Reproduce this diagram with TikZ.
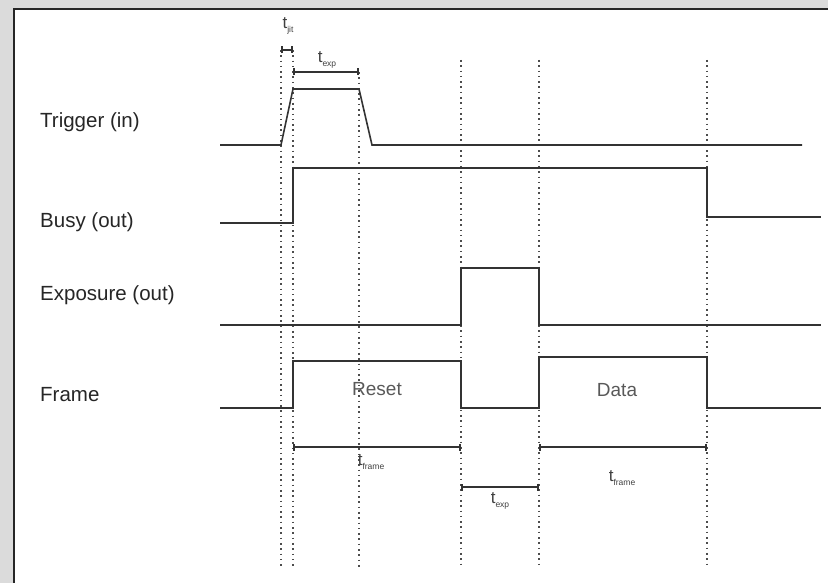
\documentclass[tikz,border=0pt]{standalone}
\usepackage{fontspec}
\setmainfont{Liberation Sans}
\usetikzlibrary{arrows.meta}
\colorlet{sigcol}{black!80}
\colorlet{grdcol}{black!70}
\colorlet{bgcol}{black!14}
\tikzset{
  sig/.style={draw=sigcol, line width=1.6pt, line join=miter},
  grd/.style={draw=grdcol, line width=1.6pt, dash pattern=on 1.6pt off 3.7pt},
  dim/.style={{Bar[width=7pt]}-{Bar[width=7pt]}, draw=sigcol, line width=1.6pt},
  lbl/.style={font=\fontsize{20.5}{24}\selectfont, text=black!85,
              anchor=west, inner sep=0pt},
  tlbl/.style={inner sep=0pt, text=black!75},
  ptxt/.style={font=\fontsize{19}{22}\selectfont, text=black!65, inner sep=0pt},
}
\newcommand{\tsub}[1]{{\fontsize{17}{17}\selectfont t}%
  \raisebox{-3.5pt}{\fontsize{8.5}{9}\selectfont #1}}

\begin{document}
\begin{tikzpicture}[x=1pt, y=-1pt]

%% ============================================================
%% PANEL
%% ============================================================
\useasboundingbox (0,0) rectangle (828,583);
\fill[bgcol] (0,0) rectangle (828,583);
\fill[white] (14,9) rectangle (828,583);
\draw[black!85, line width=2pt] (14,583) -- (14,9) -- (828,9);

%% --- timing grid (dotted) ---
\foreach \x/\yt [count=\i] in {281/50, 293/50, 359/72, 461/60, 539/60, 707/60} {
  \coordinate (g\i t) at (\x,\yt);
  \coordinate (g\i b) at (\x,567);
  \draw[grd] (g\i t) -- (g\i b);
}

%% ============================================================
%% SIGNALS
%% ============================================================
\node[lbl] (lTrig) at (40,122) {Trigger (in)};
\node[lbl] (lBusy) at (40,222) {Busy (out)};
\node[lbl] (lExpo) at (40,295) {Exposure (out)};
\node[lbl] (lFram) at (40,395) {Frame};

%% trigger
\draw[sig] (220,145) -- (281,145) -- (293,89) -- (359,89) -- (372,145) -- (802,145);
%% busy
\draw[sig] (220,223) -- (293,223) -- (293,168) -- (707,168) -- (707,217) -- (821,217);
%% exposure
\draw[sig] (220,325) -- (461,325) -- (461,268) -- (539,268) -- (539,325) -- (821,325);
%% frame
\draw[sig] (220,408) -- (293,408) -- (293,361) -- (461,361) -- (461,408)
  -- (539,408) -- (539,357) -- (707,357) -- (707,408) -- (821,408);

\node[ptxt] (pReset) at (377,389) {Reset};
\node[ptxt] (pData)  at (617,390) {Data};

%% ============================================================
%% DIMENSIONS
%% ============================================================
%% top: jitter + exposure
\draw[dim] (g1t) -- (g2t);
\draw[dim] (g2t |- g3t) -- (g3t);
\node[tlbl] (tJit)  at (288,26) {\tsub{jit}};
\node[tlbl] (tExpA) at (327,60) {\tsub{exp}};

%% bottom: frame / exposure / frame
\coordinate (bFr) at (0,447);
\coordinate (bEx) at (0,487);
\draw[dim] (g2t |- bFr) -- (g4t |- bFr);
\draw[dim] (g4t |- bEx) -- (g5t |- bEx);
\draw[dim] (g5t |- bFr) -- (g6t |- bFr);
\node[tlbl] (tFrA)  at (371,462) {\tsub{frame}};
\node[tlbl] (tExpB) at (500,501) {\tsub{exp}};
\node[tlbl] (tFrB)  at (622,478) {\tsub{frame}};

\end{tikzpicture}
\end{document}
